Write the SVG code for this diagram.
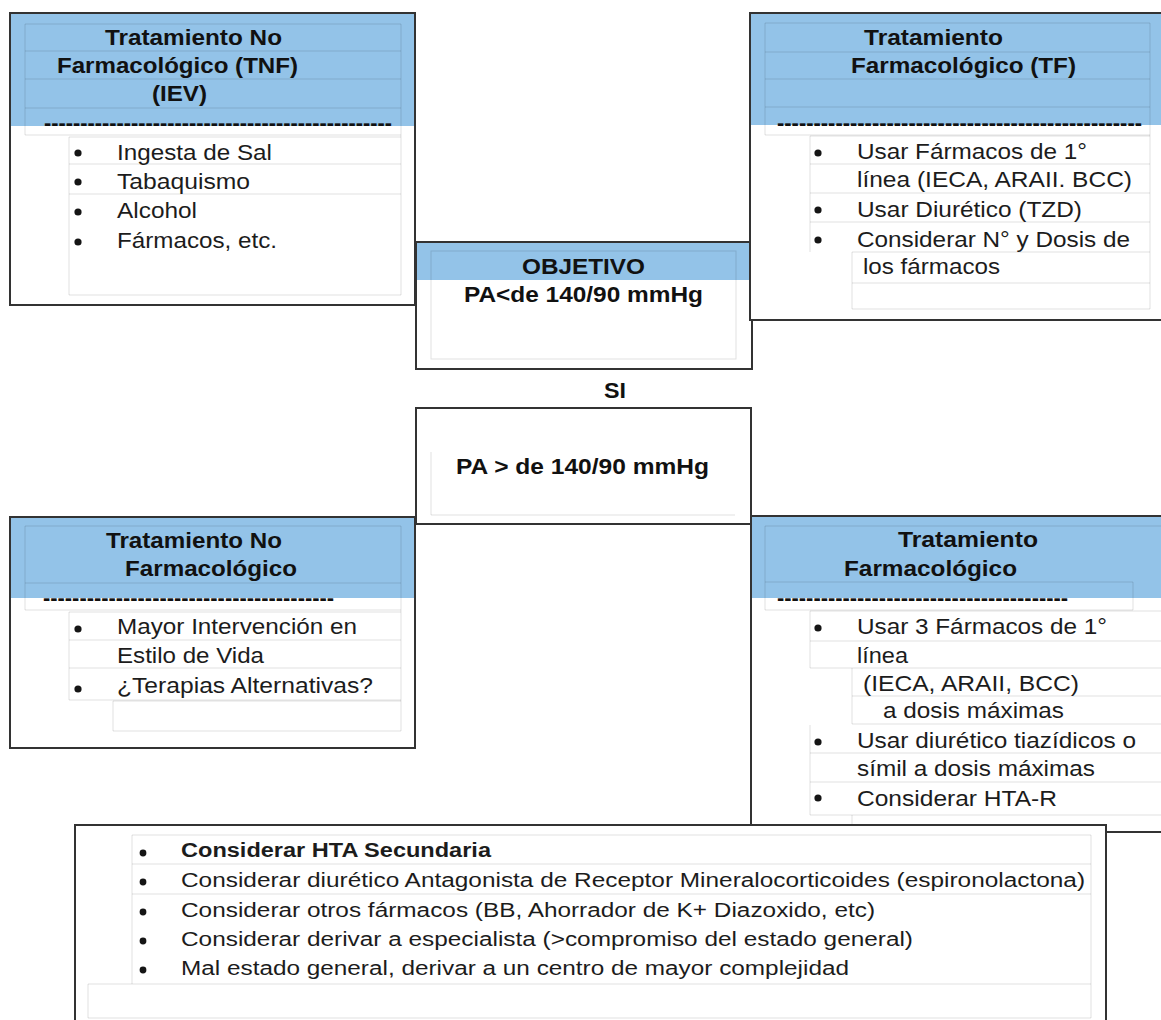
<svg xmlns="http://www.w3.org/2000/svg" width="1161" height="1020" viewBox="0 0 1161 1020">
  <style>
    .bg { fill: #ffffff; stroke: none; }
    .frame { fill: none; stroke: #333333; stroke-width: 2; }
    .band { fill: #93c3e8; }
    .grid { fill: none; stroke: #000000; stroke-opacity: 0.12; stroke-width: 1; }
    .h { font-family: "Liberation Sans", Arial, sans-serif; font-weight: bold; font-size: 22px; fill: #111111; }
    .t { font-family: "Liberation Sans", Arial, sans-serif; font-size: 22px; fill: #1c1c1c; }
    .s { font-family: "Liberation Sans", Arial, sans-serif; font-size: 20px; fill: #1c1c1c; }
    .sb { font-family: "Liberation Sans", Arial, sans-serif; font-size: 20px; font-weight: bold; fill: #1c1c1c; }
    .dot { fill: #151515; }
    .dash { font-family: "Liberation Sans", Arial, sans-serif; font-weight: bold; font-size: 22px; fill: #111111; }
  </style>

  <rect class="bg" x="0" y="0" width="1161" height="1020"/>

  <!-- Non-pharmacological treatment (target reached) -->
  <g id="tnf-box">
    <rect class="bg" x="10" y="13" width="405" height="292"/>
    <rect class="band" x="10" y="13" width="405" height="113"/>
    <path class="grid" d="M25 24H401M25 51H401M25 79H401M25 108H401M25 135H401M25 24V135M401 24V295M69 137H401M69 164H401M69 194H401M69 295H401M69 137V295"/>
    <text class="h" x="105" y="45" textLength="177" lengthAdjust="spacingAndGlyphs">Tratamiento No</text>
    <text class="h" x="57" y="73" textLength="241" lengthAdjust="spacingAndGlyphs">Farmacológico (TNF)</text>
    <text class="h" x="152" y="101" textLength="55" lengthAdjust="spacingAndGlyphs">(IEV)</text>
    <text class="dash" x="44" y="130" textLength="348" lengthAdjust="spacingAndGlyphs">------------------------------------------------</text>
    <circle class="dot" cx="78" cy="153" r="3.6"/>
    <text class="t" x="117" y="160" textLength="155" lengthAdjust="spacingAndGlyphs">Ingesta de Sal</text>
    <circle class="dot" cx="78" cy="182" r="3.6"/>
    <text class="t" x="117" y="189" textLength="133" lengthAdjust="spacingAndGlyphs">Tabaquismo</text>
    <circle class="dot" cx="78" cy="212" r="3.6"/>
    <text class="t" x="117" y="218" textLength="80" lengthAdjust="spacingAndGlyphs">Alcohol</text>
    <circle class="dot" cx="78" cy="242" r="3.6"/>
    <text class="t" x="117" y="248" textLength="160" lengthAdjust="spacingAndGlyphs">Fármacos, etc.</text>
    <rect class="frame" x="10" y="13" width="405" height="292"/>
  </g>

  <!-- Goal box -->
  <g id="objetivo-box">
    <rect class="bg" x="416" y="242" width="336" height="127"/>
    <rect class="band" x="416" y="242" width="336" height="38"/>
    <rect class="grid" x="431" y="251" width="305" height="108"/>
    <text class="h" x="522" y="274" textLength="123" lengthAdjust="spacingAndGlyphs">OBJETIVO</text>
    <text class="h" x="464" y="302" textLength="239" lengthAdjust="spacingAndGlyphs">PA&lt;de 140/90 mmHg</text>
    <rect class="frame" x="416" y="242" width="336" height="127"/>
  </g>

  <!-- Pharmacological treatment (target reached) -->
  <g id="tf-box">
    <rect class="bg" x="750" y="13" width="420" height="307"/>
    <rect class="band" x="750" y="13" width="420" height="112"/>
    <path class="grid" d="M765 23H1150M765 52H1150M765 79H1150M765 107H1150M765 135H1150M765 23V135M1150 23V309M810 136H1150M810 164H1150M810 193H1150M810 222H1150M810 136V252M852 252H1150M852 283H1150M852 309H1150M852 252V309"/>
    <text class="h" x="864" y="45" textLength="139" lengthAdjust="spacingAndGlyphs">Tratamiento</text>
    <text class="h" x="851" y="73" textLength="225" lengthAdjust="spacingAndGlyphs">Farmacológico (TF)</text>
    <text class="dash" x="777" y="130" textLength="365" lengthAdjust="spacingAndGlyphs">--------------------------------------------------</text>
    <circle class="dot" cx="818" cy="153" r="3.6"/>
    <text class="t" x="857" y="159" textLength="230" lengthAdjust="spacingAndGlyphs">Usar Fármacos de 1°</text>
    <text class="t" x="857" y="187" textLength="275" lengthAdjust="spacingAndGlyphs">línea (IECA, ARAII. BCC)</text>
    <circle class="dot" cx="818" cy="210" r="3.6"/>
    <text class="t" x="857" y="217" textLength="225" lengthAdjust="spacingAndGlyphs">Usar Diurético (TZD)</text>
    <circle class="dot" cx="818" cy="240" r="3.6"/>
    <text class="t" x="857" y="247" textLength="273" lengthAdjust="spacingAndGlyphs">Considerar N° y Dosis de</text>
    <text class="t" x="863" y="274" textLength="137" lengthAdjust="spacingAndGlyphs">los fármacos</text>
    <rect class="frame" x="750" y="13" width="420" height="307"/>
  </g>

  <!-- Decision label -->
  <g id="si-label">
    <text class="h" x="604" y="398" textLength="22" lengthAdjust="spacingAndGlyphs">SI</text>
  </g>

  <!-- Blood pressure above target -->
  <g id="pa-alta-box">
    <rect class="bg" x="416" y="408" width="335" height="116"/>
    <path class="grid" d="M431 452V515H735"/>
    <text class="h" x="456" y="474" textLength="253" lengthAdjust="spacingAndGlyphs">PA &gt; de 140/90 mmHg</text>
    <rect class="frame" x="416" y="408" width="335" height="116"/>
  </g>

  <!-- Non-pharmacological treatment (target not reached) -->
  <g id="tnf2-box">
    <rect class="bg" x="10" y="517" width="405" height="231"/>
    <rect class="band" x="10" y="517" width="405" height="81"/>
    <path class="grid" d="M25 526H401M25 583H401M25 610H401M25 526V610M401 526V731M69 612H401M69 640H401M69 668H401M69 700H401M69 612V700M113 701H401M113 731H401M113 701V731"/>
    <text class="h" x="106" y="548" textLength="176" lengthAdjust="spacingAndGlyphs">Tratamiento No</text>
    <text class="h" x="125" y="576" textLength="172" lengthAdjust="spacingAndGlyphs">Farmacológico</text>
    <text class="dash" x="43" y="605" textLength="291" lengthAdjust="spacingAndGlyphs">----------------------------------------</text>
    <circle class="dot" cx="78" cy="629" r="3.6"/>
    <text class="t" x="117" y="634" textLength="240" lengthAdjust="spacingAndGlyphs">Mayor Intervención en</text>
    <text class="t" x="117" y="663" textLength="147" lengthAdjust="spacingAndGlyphs">Estilo de Vida</text>
    <circle class="dot" cx="78" cy="689" r="3.6"/>
    <text class="t" x="117" y="693" textLength="256" lengthAdjust="spacingAndGlyphs">¿Terapias Alternativas?</text>
    <rect class="frame" x="10" y="517" width="405" height="231"/>
  </g>

  <!-- Pharmacological treatment (target not reached) -->
  <g id="tf2-box">
    <rect class="bg" x="751" y="516" width="420" height="316"/>
    <rect class="band" x="751" y="516" width="420" height="82"/>
    <path class="grid" d="M765 526H1161M765 582H1133M765 610H1133M765 526V610M1133 582V610M810 611H1161M810 641H1161M810 668H1161M810 611V668M852 668V724M852 696H1161M852 724H1161M810 725V815M810 753H1161M810 782H1161M810 815H1161M852 815V825"/>
    <text class="h" x="898" y="547" textLength="140" lengthAdjust="spacingAndGlyphs">Tratamiento</text>
    <text class="h" x="844" y="576" textLength="173" lengthAdjust="spacingAndGlyphs">Farmacológico</text>
    <text class="dash" x="777" y="605" textLength="291" lengthAdjust="spacingAndGlyphs">----------------------------------------</text>
    <circle class="dot" cx="818" cy="628" r="3.6"/>
    <text class="t" x="857" y="634" textLength="250" lengthAdjust="spacingAndGlyphs">Usar 3 Fármacos de 1°</text>
    <text class="t" x="857" y="663" textLength="51" lengthAdjust="spacingAndGlyphs">línea</text>
    <text class="t" x="863" y="691" textLength="216" lengthAdjust="spacingAndGlyphs">(IECA, ARAII, BCC)</text>
    <text class="t" x="883" y="718" textLength="181" lengthAdjust="spacingAndGlyphs">a dosis máximas</text>
    <circle class="dot" cx="818" cy="742" r="3.6"/>
    <text class="t" x="857" y="748" textLength="279" lengthAdjust="spacingAndGlyphs">Usar diurético tiazídicos o</text>
    <text class="t" x="857" y="776" textLength="238" lengthAdjust="spacingAndGlyphs">símil a dosis máximas</text>
    <circle class="dot" cx="818" cy="798" r="3.6"/>
    <text class="t" x="857" y="806" textLength="200" lengthAdjust="spacingAndGlyphs">Considerar HTA-R</text>
    <rect class="frame" x="751" y="516" width="420" height="316"/>
  </g>

  <!-- Further measures -->
  <g id="medidas-box">
    <rect class="bg" x="75" y="825" width="1031" height="205"/>
    <path class="grid" d="M132 835H1091M132 864H1091M132 894H1091M132 835V984M88 984H1091M88 1018H1091M88 984V1018M1091 835V1018"/>
    <circle class="dot" cx="143" cy="853" r="3.4"/>
    <text class="sb" x="181" y="857" textLength="310" lengthAdjust="spacingAndGlyphs">Considerar HTA Secundaria</text>
    <circle class="dot" cx="143" cy="882" r="3.4"/>
    <text class="s" x="181" y="887" textLength="904" lengthAdjust="spacingAndGlyphs">Considerar diurético Antagonista de Receptor Mineralocorticoides (espironolactona)</text>
    <circle class="dot" cx="143" cy="912" r="3.4"/>
    <text class="s" x="181" y="917" textLength="694" lengthAdjust="spacingAndGlyphs">Considerar otros fármacos (BB, Ahorrador de K+ Diazoxido, etc)</text>
    <circle class="dot" cx="143" cy="941" r="3.4"/>
    <text class="s" x="181" y="946" textLength="732" lengthAdjust="spacingAndGlyphs">Considerar derivar a especialista (&gt;compromiso del estado general)</text>
    <circle class="dot" cx="143" cy="970" r="3.4"/>
    <text class="s" x="181" y="975" textLength="668" lengthAdjust="spacingAndGlyphs">Mal estado general, derivar a un centro de mayor complejidad</text>
    <rect class="frame" x="75" y="825" width="1031" height="205"/>
  </g>
</svg>
